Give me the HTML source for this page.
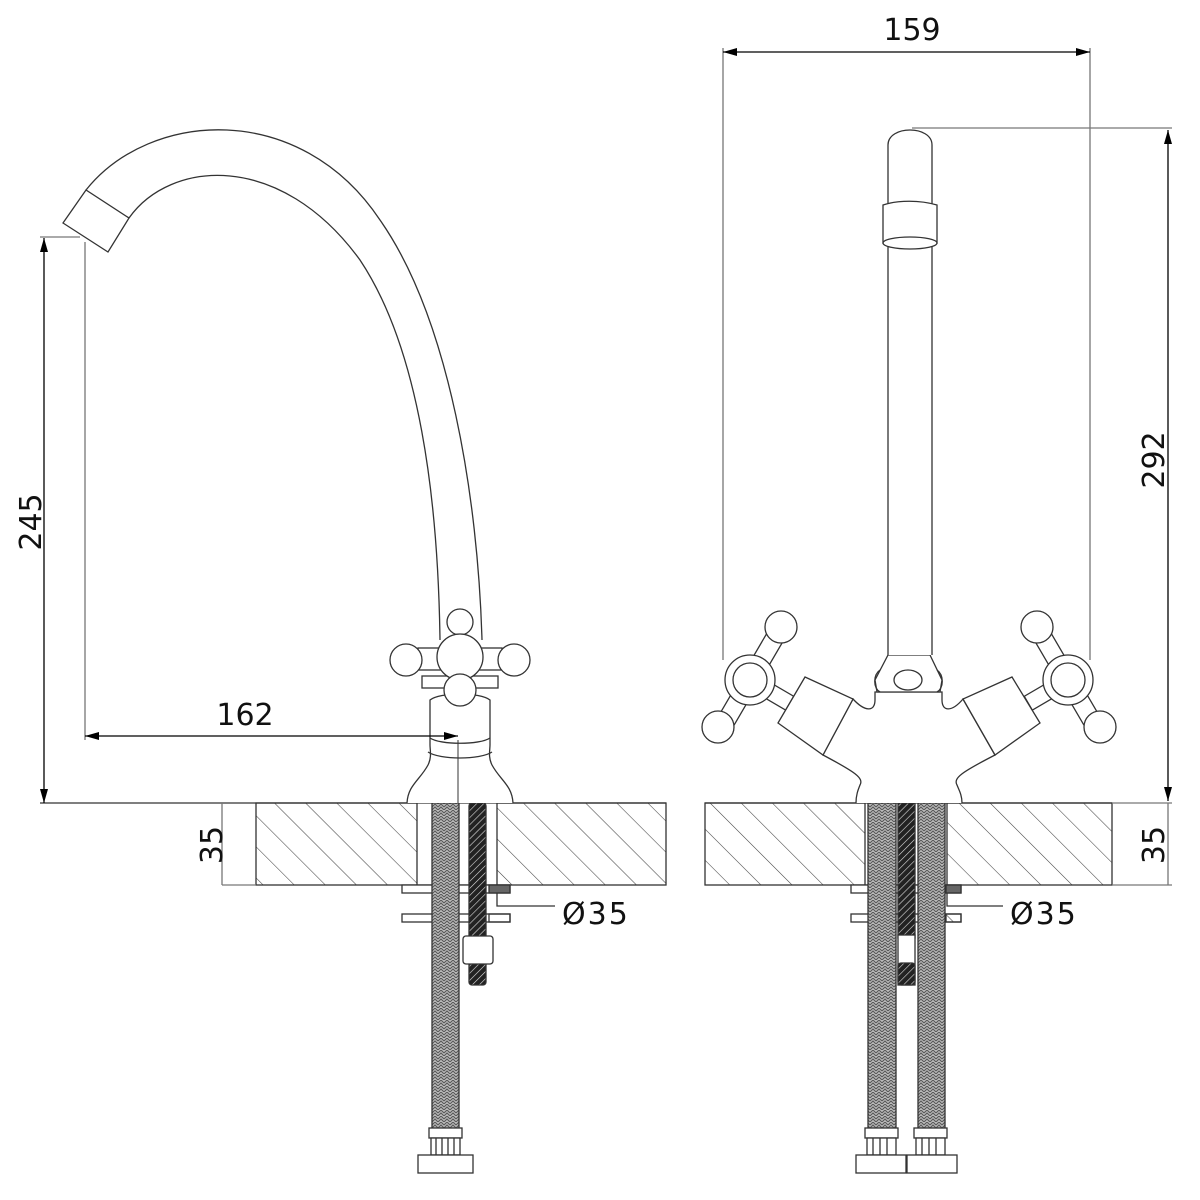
<!DOCTYPE html>
<html><head><meta charset="utf-8"><style>
html,body{margin:0;padding:0;background:#fff;}
svg{display:block}
text{font-family:"DejaVu Sans","Liberation Sans",sans-serif;fill:#111}
</style></head><body>
<svg width="1200" height="1200" viewBox="0 0 1200 1200" xmlns="http://www.w3.org/2000/svg">
<defs>
<pattern id="hatch" width="22" height="22" patternUnits="userSpaceOnUse" patternTransform="rotate(-45)">
<line x1="0" y1="0" x2="0" y2="22" stroke="#444" stroke-width="1.1"/>
</pattern>
<pattern id="braid" width="6" height="6" patternUnits="userSpaceOnUse">
<rect width="6" height="6" fill="#bbb"/>
<path d="M0 3 L3 0 L6 3 M0 6 L3 3 L6 6" stroke="#555" stroke-width="1" fill="none"/>
</pattern>
<pattern id="rod" width="5" height="5" patternUnits="userSpaceOnUse" patternTransform="rotate(45)">
<rect width="5" height="5" fill="#222"/>
<line x1="0" y1="0" x2="0" y2="5" stroke="#ddd" stroke-width="1.2"/>
</pattern>
<marker id="ar" markerWidth="14" markerHeight="8" refX="14" refY="4" orient="auto" markerUnits="userSpaceOnUse">
<path d="M0 0 L14 4 L0 8 z" fill="#000"/>
</marker>
<marker id="al" markerWidth="14" markerHeight="8" refX="0" refY="4" orient="auto" markerUnits="userSpaceOnUse">
<path d="M14 0 L0 4 L14 8 z" fill="#000"/>
</marker>
<g id="hdl">
<g transform="translate(750,680) rotate(-59.7)">
<rect x="-8" y="0" width="16" height="46" fill="#fff"/>
<rect x="-60" y="-9" width="120" height="18" fill="#fff"/>
</g>
<circle cx="781" cy="627" r="16" fill="#fff"/>
<circle cx="718" cy="727" r="16" fill="#fff"/>
<circle cx="750" cy="680" r="25" fill="#fff"/>
<circle cx="750" cy="680" r="17"/>
</g>
</defs>
<g fill="none" stroke="#333" stroke-width="1.3">

<!-- ===== LEFT VIEW ===== -->
<rect x="256" y="803" width="161" height="82" fill="url(#hatch)"/>
<rect x="497" y="803" width="169" height="82" fill="url(#hatch)"/>
<line x1="417" y1="885" x2="497" y2="885"/>
<line x1="40" y1="803" x2="666" y2="803"/>
<rect x="402" y="885" width="108" height="8" fill="#fff"/>
<rect x="489" y="885" width="21" height="8" fill="#666"/>
<rect x="402" y="914" width="108" height="8" fill="#fff"/>
<rect x="489" y="914" width="21" height="8" fill="url(#hatch)"/>
<rect x="432" y="803" width="27" height="330" fill="url(#braid)"/>
<rect x="429" y="1128" width="33" height="10" fill="#fff"/>
<rect x="431" y="1138" width="29" height="17" fill="#fff"/>
<line x1="436" y1="1138" x2="436" y2="1155"/><line x1="442" y1="1138" x2="442" y2="1155"/><line x1="448" y1="1138" x2="448" y2="1155"/><line x1="454" y1="1138" x2="454" y2="1155"/>
<rect x="418" y="1155" width="55" height="18" fill="#fff"/>
<rect x="469" y="803" width="17" height="182" rx="3" fill="url(#rod)"/>
<rect x="463" y="936" width="30" height="28" rx="3" fill="#fff"/>
<path d="M497 893 V906 H555"/>
<path d="M407 803 C408 785 420 780 428 765 C432 757 430 750 430 745 V700 C440 692 480 692 490 700 V745 C490 750 488 757 492 765 C500 780 512 785 513 803" fill="#fff"/>
<path d="M430 738 C440 745 480 745 490 738 M428 752 C440 760 480 760 492 752"/>
<line x1="458" y1="740" x2="458" y2="803" stroke-width="1"/>
<path d="M86 190 C150 110 300 100 380 220 C450 320 478 500 482 640"/>
<path d="M129 218 C170 160 280 150 360 260 C420 350 438 500 440 640"/>
<path d="M63 223 L86 190 L129 218 L108 252 Z" fill="#fff"/>
<rect x="422" y="676" width="76" height="12" fill="#fff"/>
<circle cx="460" cy="622" r="13" fill="#fff"/>
<rect x="418" y="648" width="84" height="22" fill="#fff"/>
<circle cx="406" cy="660" r="16" fill="#fff"/>
<circle cx="514" cy="660" r="16" fill="#fff"/>
<circle cx="460" cy="657" r="23" fill="#fff"/>
<circle cx="460" cy="690" r="16" fill="#fff"/>
<line x1="44" y1="803" x2="44" y2="238" stroke="#000" marker-end="url(#ar)" marker-start="url(#al)"/>
<line x1="40" y1="237" x2="80" y2="237" stroke="#777"/>
<line x1="85" y1="242" x2="85" y2="740" stroke="#777"/>
<line x1="85" y1="736" x2="458" y2="736" stroke="#000" marker-start="url(#al)" marker-end="url(#ar)"/>
<line x1="222" y1="803" x2="222" y2="885" stroke="#777"/>
<line x1="222" y1="885" x2="256" y2="885" stroke="#777"/>

<!-- ===== RIGHT VIEW ===== -->
<rect x="705" y="803" width="160" height="82" fill="url(#hatch)"/>
<rect x="947" y="803" width="165" height="82" fill="url(#hatch)"/>
<line x1="865" y1="885" x2="947" y2="885"/>
<line x1="705" y1="803" x2="1112" y2="803"/>
<rect x="851" y="885" width="110" height="8" fill="#fff"/>
<rect x="946" y="885" width="15" height="8" fill="#666"/>
<rect x="851" y="914" width="110" height="8" fill="#fff"/>
<rect x="946" y="914" width="15" height="8" fill="url(#hatch)"/>
<rect x="868" y="803" width="28" height="330" fill="url(#braid)"/>
<rect x="918" y="803" width="27" height="330" fill="url(#braid)"/>
<rect x="898" y="803" width="17" height="135" fill="url(#rod)"/>
<rect x="898" y="935" width="17" height="50" fill="#fff"/>
<rect x="898" y="963" width="17" height="22" rx="3" fill="url(#rod)"/>
<path d="M947 893 V906 H1003"/>
<rect x="865" y="1128" width="33" height="10" fill="#fff"/>
<rect x="867" y="1138" width="29" height="17" fill="#fff"/>
<rect x="914" y="1128" width="33" height="10" fill="#fff"/>
<rect x="916" y="1138" width="29" height="17" fill="#fff"/>
<line x1="873" y1="1138" x2="873" y2="1155"/><line x1="880" y1="1138" x2="880" y2="1155"/><line x1="887" y1="1138" x2="887" y2="1155"/>
<line x1="922" y1="1138" x2="922" y2="1155"/><line x1="929" y1="1138" x2="929" y2="1155"/><line x1="936" y1="1138" x2="936" y2="1155"/>
<rect x="856" y="1155" width="50" height="18" fill="#fff"/>
<rect x="907" y="1155" width="50" height="18" fill="#fff"/>
<!-- handles (behind blocks) -->
<use href="#hdl"/>
<use href="#hdl" transform="translate(1818,0) scale(-1,1)"/>
<path d="M856 803 C856 795 858 790 860 785 C864 778 855 772 823 755 L853 699 C865 712 875 712 875 700 L875 692 L942 692 L942 700 C942 712 952 712 963 699 L995 755 C962 772 953 778 957 785 C959 790 962 795 962 803" fill="#fff"/>
<path d="M778 723 L805 677 L853 699 L823 755 Z" fill="#fff"/>
<path d="M1040 723 L1012 677 L963 699 L995 755 Z" fill="#fff"/>
<path d="M888 655 L930 655 L942 680 L940 692 L877 692 L875 680 Z" fill="#fff"/>
<ellipse cx="908" cy="680" rx="14" ry="10"/>
<path d="M880 670 C873 675 873 688 880 692 M937 670 C944 675 944 688 937 692"/>
<path d="M888 655 V145 C888 125 932 125 932 145 V655" fill="#fff"/>
<path d="M883 205 C898 200 920 200 937 205 V243 H883 Z" fill="#fff"/>
<ellipse cx="910" cy="243" rx="27" ry="6" fill="#fff"/>
<line x1="723" y1="48" x2="723" y2="660" stroke="#777"/>
<line x1="1090" y1="48" x2="1090" y2="660" stroke="#777"/>
<line x1="723" y1="52" x2="1090" y2="52" stroke="#000" marker-start="url(#al)" marker-end="url(#ar)"/>
<line x1="912" y1="128" x2="1172" y2="128" stroke="#777"/>
<line x1="1112" y1="803" x2="1172" y2="803" stroke="#777"/>
<line x1="1112" y1="885" x2="1172" y2="885" stroke="#777"/>
<line x1="1168" y1="130" x2="1168" y2="801" stroke="#000" marker-start="url(#al)" marker-end="url(#ar)"/>
<line x1="1168" y1="803" x2="1168" y2="885" stroke="#777"/>
</g>
<g font-size="30">
<text x="245" y="725" text-anchor="middle">162</text>
<text transform="translate(41,522) rotate(-90)" text-anchor="middle">245</text>
<text transform="translate(222,845) rotate(-90)" text-anchor="middle">35</text>
<text x="912" y="40" text-anchor="middle">159</text>
<text transform="translate(1164,460) rotate(-90)" text-anchor="middle">292</text>
<text transform="translate(1164,845) rotate(-90)" text-anchor="middle">35</text>
<text x="562" y="924" letter-spacing="2">Ø35</text>
<text x="1010" y="924" letter-spacing="2">Ø35</text>
</g>
</svg>
</body></html>
